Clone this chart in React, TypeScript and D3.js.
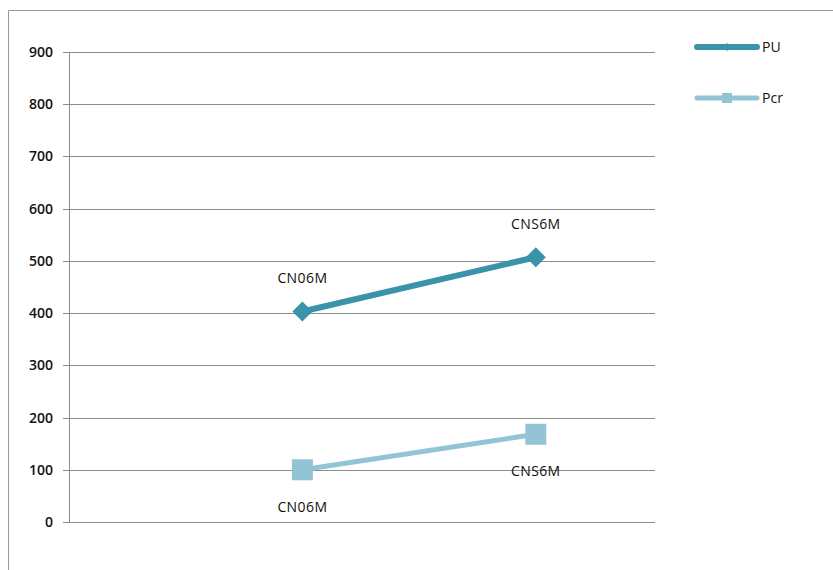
import React from "react";
import * as d3 from "d3";

const seriesNames = ["PU", "Pcr"];
const seriesColors = ["#3a93a8", "#93c4d5"];
const xPositions = [1, 2];
const puValues = [403, 507];
const pcrValues = [100, 168];
const pointLabels = ["CN06M", "CNS6M"];
const yTicks = [0, 100, 200, 300, 400, 500, 600, 700, 800, 900];

const W = 833;
const H = 570;
const FONT = "'Open Sans', 'Liberation Sans', sans-serif";

export default function App() {
  const x = d3.scaleLinear().domain([0, 2.5]).range([69, 652.5]);
  const y = d3.scaleLinear().domain([0, 900]).range([522, 52]);
  const line = d3
    .line<number>()
    .x((_, i) => x(xPositions[i]))
    .y((d) => y(d));

  const diamond = (cx: number, cy: number, r: number) =>
    `M${cx},${cy - r}L${cx + r},${cy}L${cx},${cy + r}L${cx - r},${cy}Z`;

  const gridLeft = 63;
  const gridRight = 655;

  return (
    <svg
      width={W}
      height={H}
      style={{ position: "absolute", left: 0, top: 0, background: "#fff" }}
      fontFamily={FONT}
    >
      {/* outer frame */}
      <path d={`M8.5,${H}V10.5H${W}`} fill="none" stroke="#999" strokeWidth={1} />

      {/* gridlines and y ticks */}
      {yTicks.map((t) => (
        <g key={t}>
          <line
            x1={gridLeft}
            x2={gridRight}
            y1={Math.round(y(t)) + 0.5}
            y2={Math.round(y(t)) + 0.5}
            stroke="#8c8c8c"
            strokeWidth={1}
          />
          <text
            x={53}
            y={y(t)}
            dy="0.36em"
            textAnchor="end"
            fontSize={14}
            fontWeight={600}
            fill="#111"
          >
            {t}
          </text>
        </g>
      ))}
      <line x1={69.5} x2={69.5} y1={y(900)} y2={y(0)} stroke="#8c8c8c" strokeWidth={1} />

      {/* Pcr series */}
      <path d={line(pcrValues) || ""} fill="none" stroke={seriesColors[1]} strokeWidth={5} />
      {pcrValues.map((v, i) => (
        <rect
          key={i}
          x={x(xPositions[i]) - 10.5}
          y={y(v) - 10.5}
          width={21}
          height={21}
          fill={seriesColors[1]}
        />
      ))}

      {/* PU series */}
      <path d={line(puValues) || ""} fill="none" stroke={seriesColors[0]} strokeWidth={6} />
      {puValues.map((v, i) => (
        <path key={i} d={diamond(x(xPositions[i]), y(v), 10)} fill={seriesColors[0]} />
      ))}

      {/* point labels */}
      {puValues.map((v, i) => (
        <text
          key={`pu${i}`}
          x={x(xPositions[i])}
          y={y(v) - 28.5}
          textAnchor="middle"
          fontSize={14}
          fontWeight={500}
          letterSpacing={0.4}
          fill="#111"
        >
          {pointLabels[i]}
        </text>
      ))}
      {pcrValues.map((v, i) => (
        <text
          key={`pcr${i}`}
          x={x(xPositions[i])}
          y={y(v) + 42}
          textAnchor="middle"
          fontSize={14}
          fontWeight={500}
          letterSpacing={0.4}
          fill="#111"
        >
          {pointLabels[i]}
        </text>
      ))}

      {/* legend */}
      {seriesNames.map((name, i) => {
        const ly = 47 + i * 51;
        return (
          <g key={name}>
            <line
              x1={697}
              x2={757}
              y1={ly}
              y2={ly}
              stroke={seriesColors[i]}
              strokeWidth={i === 0 ? 6 : 5}
              strokeLinecap="round"
            />
            {i === 0 ? (
              <path d={diamond(727, ly, 4)} fill={seriesColors[0]} />
            ) : (
              <rect x={722} y={ly - 5} width={10} height={10} fill={seriesColors[1]} />
            )}
            <text x={762} y={ly} dy="0.36em" fontSize={14} fontWeight={500} fill="#111">
              {name}
            </text>
          </g>
        );
      })}
    </svg>
  );
}
